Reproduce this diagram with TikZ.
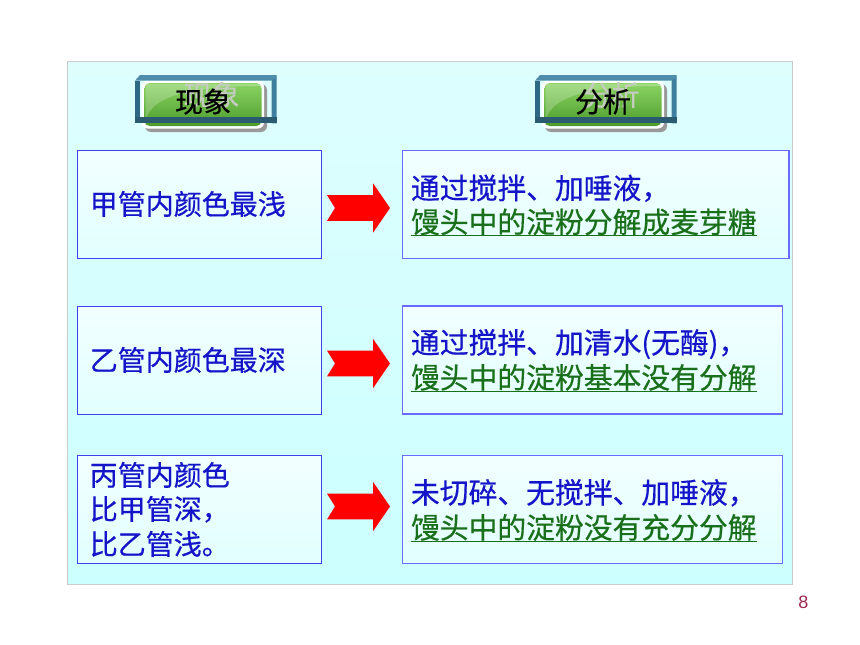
\documentclass[tikz,border=0pt]{standalone}
\usepackage{fontspec}
\setmainfont{Liberation Sans}
\newfontfamily\cjk[FakeBold=0.5]{Noto Sans CJK SC}
\usetikzlibrary{calc}
\definecolor{panelTop}{HTML}{DEFEFE}
\definecolor{panelBot}{HTML}{CCFFFF}
\definecolor{boxTop}{HTML}{F2FFFF}
\definecolor{boxBot}{HTML}{E2FFFF}
\definecolor{lboxline}{HTML}{4040EE}
\definecolor{rboxline}{HTML}{6A6AFF}
\definecolor{txtblue}{HTML}{1414C8}
\definecolor{txtgreen}{HTML}{1A701A}
\definecolor{btnTop}{HTML}{8CD464}
\definecolor{btnBot}{HTML}{4C9C2C}
\definecolor{frTop}{HTML}{4D8DAB}
\definecolor{frRight}{HTML}{3F7F9D}
\definecolor{frLeft}{HTML}{2C6884}
\definecolor{frBot}{HTML}{2B5B70}
\definecolor{ghost}{HTML}{C4CCC0}
\definecolor{pagenum}{HTML}{A02850}
\tikzset{
  panel/.style={draw=black!20, line width=0.8pt, top color=panelTop, bottom color=panelBot},
  lbox/.style={rectangle, draw=lboxline, line width=1.2pt, top color=boxTop, bottom color=boxBot,
    minimum height=108pt, inner sep=0pt},
  rbox/.style={lbox, draw=rboxline, line width=1.5pt},
  ltxt/.style={anchor=base west, inner sep=0pt, text=txtblue, font=\cjk\fontsize{28}{28}\selectfont},
  rtxt/.style={ltxt, font=\cjk\fontsize{28.8}{28.8}\selectfont},
  gtxt/.style={rtxt, text=txtgreen},
  uline/.style={draw=txtgreen, line width=1.4pt},
  hdrtxt/.style={anchor=base, inner sep=0pt, text=black, font=\cjk\fontsize{28}{28}\selectfont},
  ghosttxt/.style={hdrtxt, text=ghost},
  blockarrow/.pic={
    \fill[red] (0,-12.9) -- (46,-12.9) -- (46,-24.7) -- (63,0) -- (46,24.7) -- (46,12.9)
      -- (0,12.9) -- (8,0) -- cycle;
  },
  hdrbtn/.pic={
    \fill[black!40, rounded corners=6pt] (10,9) rectangle (132,57);
    \fill[white, rounded corners=6pt] (6.7,5.7) rectangle (129,53.5);
    \shade[top color=btnTop, bottom color=btnBot, rounded corners=5pt] (9.5,8) rectangle (126.5,51);
    \fill[white, opacity=0.22] (10.5,47) .. controls (14,20) and (60,11) .. (126,11)
      -- (126,9) -- (10.5,9) -- cycle;
    \fill[frTop] (0,5.7) -- (5,0) -- (141.7,0) -- (136.7,5.7) -- cycle;
    \fill[frRight] (136.7,5.7) -- (141.7,0) -- (141.7,48.3) -- (136.7,48.3) -- cycle;
    \fill[frLeft] (0,5.7) rectangle (5,42.3);
    \fill[frBot] (0,42.3) rectangle (141.7,48.3);
    \node[ghosttxt] (-g) at (76.5,30.6) {#1};
    \node[hdrtxt] (-t) at (68,37.3) {#1};
  }
}
\begin{document}
\begin{tikzpicture}[x=1pt,y=-1pt]
\useasboundingbox (0,0) rectangle (860,645);
\fill[white] (0,0) rectangle (860,645);
% panel
\path[panel] (67,61) rectangle (792,584);
% header buttons
\pic (h1) at (135,75) {hdrbtn=现象};
\pic (h2) at (535,75) {hdrbtn=分析};
% boxes
\node[lbox, minimum width=244.4pt] (l1) at (199.5,204.7) {};
\node[lbox, minimum width=244.4pt] (l2) at (199.5,360.2) {};
\node[lbox, minimum width=244.4pt] (l3) at (199.5,509.3) {};
\node[rbox, minimum width=386.7pt] (r1) at (595.7,204.7) {};
\node[rbox, minimum width=379.6pt] (r2) at (592.5,360.2) {};
\node[rbox, minimum width=380pt] (r3) at (592.5,509.3) {};
% left texts
\node[ltxt] (l1a) at (89.6,214.6) {甲管内颜色最浅};
\node[ltxt] (l2a) at (89.6,370.6) {乙管内颜色最深};
\node[ltxt] (l3a) at (89.6,485.6) {丙管内颜色};
\node[ltxt] (l3b) at (89.6,519.6) {比甲管深，};
\node[ltxt] (l3c) at (89.6,554.6) {比乙管浅。};
% right texts
\node[rtxt] (r1a) at (410.8,198.9) {通过搅拌、加唾液，};
\node[gtxt] (r1b) at (410.8,232.9) {馒头中的淀粉分解成麦芽糖};
\node[rtxt] (r2a) at (410.8,353.4) {通过搅拌、加清水(无酶)，};
\node[gtxt] (r2b) at (410.8,388.4) {馒头中的淀粉基本没有分解};
\node[rtxt] (r3a) at (410.8,503.4) {未切碎、无搅拌、加唾液，};
\node[gtxt] (r3b) at (410.8,538.4) {馒头中的淀粉没有充分分解};
\draw[uline] ($(r1b.base west)+(0,2.8)$) -- ($(r1b.base east)+(0,2.8)$);
\draw[uline] ($(r2b.base west)+(0,2.8)$) -- ($(r2b.base east)+(0,2.8)$);
\draw[uline] ($(r3b.base west)+(0,2.8)$) -- ($(r3b.base east)+(0,2.8)$);
% arrows
\pic (a1) at (327,208) {blockarrow};
\pic (a2) at (327,363.5) {blockarrow};
\pic (a3) at (327,506.5) {blockarrow};
% page number
\node[inner sep=0pt, anchor=base, text=pagenum, font=\fontsize{18}{18}\selectfont] (pg) at (803.3,608) {8};
\end{tikzpicture}
\end{document}
